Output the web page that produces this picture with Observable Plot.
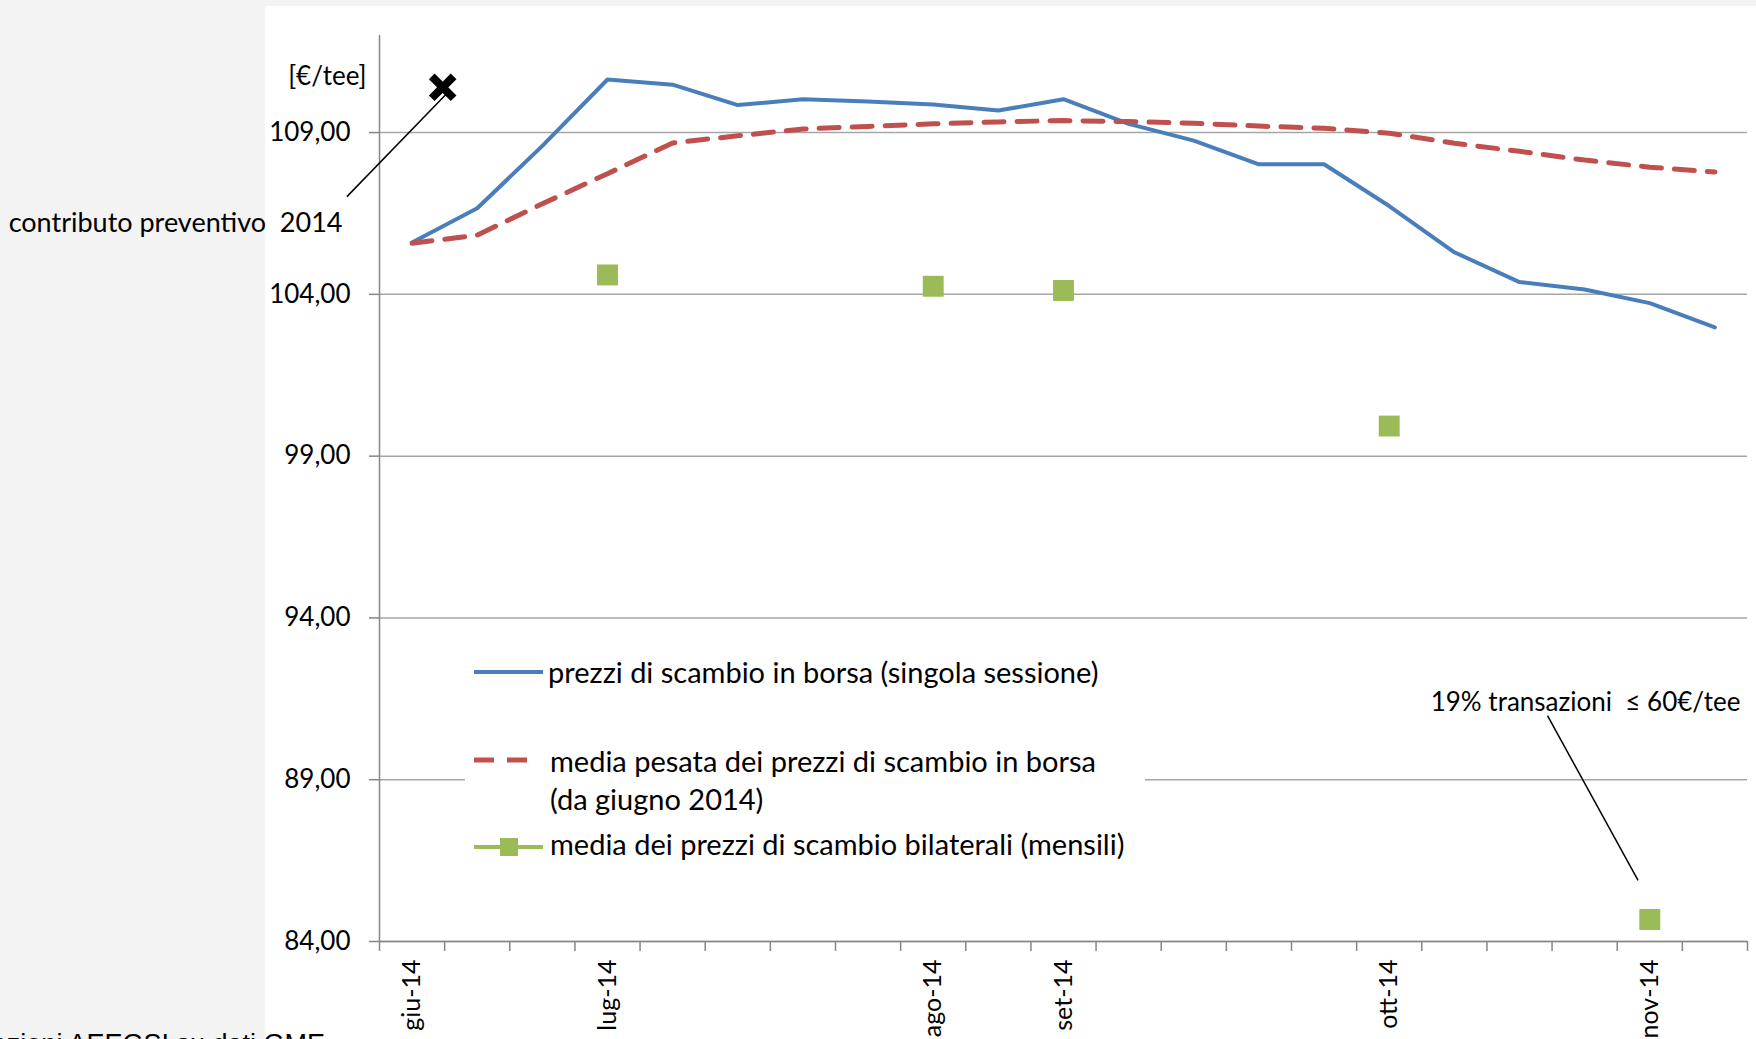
<!DOCTYPE html>
<html><head><meta charset="utf-8">
<script src="https://cdn.jsdelivr.net/npm/d3@7"></script>
<script src="https://cdn.jsdelivr.net/npm/@observablehq/plot@0.6"></script>
<style>
html,body{margin:0;padding:0;width:1756px;height:1039px;overflow:hidden;background:#f3f3f3;}
#white{position:absolute;left:265px;top:6px;right:0;bottom:0;background:#fff;}
#chart{position:absolute;left:0;top:0;}
#legend{position:absolute;left:465px;top:640px;width:680px;height:232px;background:#fff;font-family:Lato,sans-serif;font-size:29px;color:#000;}
#legend .lt{position:absolute;white-space:pre;line-height:30px;}
#legend svg{position:absolute;overflow:visible;}
#source{position:absolute;right:calc(1756px - 325px);top:1031px;font-family:"Liberation Sans",Arial,sans-serif;font-size:27px;line-height:1;white-space:nowrap;color:#000;}
</style></head>
<body>
<div id="white"></div>
<div id="chart"></div>
<div id="legend">
  <svg style="left:9px;top:17px" width="70" height="30"><line x1="0" y1="15" x2="69" y2="15" stroke="#4a7ebb" stroke-width="4"/></svg>
  <div class="lt" style="left:83px;top:17px">prezzi di scambio in borsa (singola sessione)</div>
  <svg style="left:9px;top:105px" width="60" height="30"><line x1="0" y1="15" x2="53" y2="15" stroke="#c0504d" stroke-width="5" stroke-dasharray="20,13"/></svg>
  <div class="lt" style="left:85px;top:106px">media pesata dei prezzi di scambio in borsa</div>
  <div class="lt" style="left:85px;top:144px">(da giugno 2014)</div>
  <svg style="left:9px;top:192px" width="70" height="30"><line x1="0" y1="15" x2="69" y2="15" stroke="#9bbb59" stroke-width="4"/><rect x="26" y="6" width="18" height="18" fill="#9bbb59"/></svg>
  <div class="lt" style="left:85px;top:189px">media dei prezzi di scambio bilaterali (mensili)</div>
</div>
<div id="source">Elaborazioni AEEGSI su dati GME</div>
<script>
// ---- data ----
const sessionLabels = ["giu-14","","","lug-14","","","","","ago-14","","set-14","","","","","ott-14","","","","nov-14",""];
const prezziBorsa = [105.60,106.66,108.59,110.64,110.48,109.85,110.03,109.96,109.87,109.68,110.03,109.27,108.75,108.02,108.02,106.73,105.30,104.38,104.15,103.73,102.98];
const mediaPesata = [105.58,105.83,106.80,107.73,108.68,108.90,109.11,109.19,109.27,109.33,109.37,109.34,109.29,109.20,109.13,108.98,108.67,108.42,108.15,107.93,107.78];
const bilateraliSession = [3,8,10,15,19];
const bilateraliValue = [104.60,104.25,104.12,99.93,84.68];
const contributoSession = [0.47];
const contributoValue = [110.4];
const yTicks = [84,89,94,99,104,109];
const yDomain = [84,112];
// annotation leader lines (session index, value)
const leaderX1 = [-1.0, 17.43];
const leaderY1 = [107.02, 90.98];
const leaderX2 = [0.53, 18.82];
const leaderY2 = [110.2, 85.89];

// ---- tables ----
const rows = sessionLabels.map((label, i) => ({i, label, borsa: prezziBorsa[i], media: mediaPesata[i]}));
const labelled = rows.filter(d => d.label !== "");
const boundaries = rows.map(d => d.i - 0.5).concat([rows.length - 0.5]);
const bilat = bilateraliSession.map((s, k) => ({s, v: bilateraliValue[k]}));
const contributo = contributoSession.map((s, k) => ({s, v: contributoValue[k]}));
const leaders = leaderX1.map((x1, k) => ({x1, y1: leaderY1[k], x2: leaderX2[k], y2: leaderY2[k]}));
const fmt = d => d.toFixed(2).replace(".", ",");

const chart = Plot.plot({
  width: 1756, height: 1039,
  marginLeft: 379, marginRight: 9, marginTop: 35, marginBottom: 98,
  x: {domain: [-0.5, rows.length - 0.5]},
  y: {domain: yDomain},
  style: {background: "transparent", fontFamily: "Lato, sans-serif", fontSize: "26px", color: "#000", overflow: "visible"},
  marks: [
    Plot.gridY(yTicks, {stroke: "#a6a6a6", strokeOpacity: 1, strokeWidth: 1.5}),
    Plot.ruleX([-0.5], {stroke: "#868686", strokeWidth: 1.5}),
    Plot.ruleY([84], {stroke: "#868686", strokeWidth: 1.5}),
    Plot.axisY(yTicks, {tickSize: 10, tickPadding: 19, tickFormat: fmt, stroke: "#868686", strokeWidth: 1.5, label: null, fill: "#000"}),
    Plot.axisX(boundaries, {tickSize: 10, tickFormat: () => "", stroke: "#868686", strokeWidth: 1.5, label: null}),
    Plot.text(labelled, {x: "i", text: "label", frameAnchor: "bottom", dy: 18, rotate: -90, textAnchor: "end", lineAnchor: "middle", fill: "#000", fontSize: 25}),
    Plot.line(rows, {x: "i", y: "borsa", stroke: "#4a7ebb", strokeWidth: 4}),
    Plot.line(rows, {x: "i", y: "media", stroke: "#c0504d", strokeWidth: 5, strokeDasharray: "20,13"}),
    Plot.dot(bilat, {x: "s", y: "v", symbol: "square", r: 11.8, fill: "#9bbb59"}),
    Plot.link(leaders, {x1: "x1", y1: "y1", x2: "x2", y2: "y2", stroke: "#000", strokeWidth: 1.5}),
    Plot.dot(contributo, {x: "s", y: "v", symbol: "times", r: 10, stroke: "#000", strokeWidth: 8}),
    Plot.text(["[€/tee]"], {frameAnchor: "top-left", dx: -13, dy: 41, textAnchor: "end", lineAnchor: "middle", fill: "#000"}),
    Plot.text(["contributo preventivo \u00a02014"], {frameAnchor: "top-left", dx: -37, dy: 188, textAnchor: "end", lineAnchor: "middle", fill: "#000", fontSize: 27}),
    Plot.text(["19% transazioni \u00a0≤ 60€/tee"], {frameAnchor: "top-right", dx: -7, dy: 667, textAnchor: "end", lineAnchor: "middle", fill: "#000"})
  ]
});
document.getElementById("chart").appendChild(chart);
</script>
</body></html>
